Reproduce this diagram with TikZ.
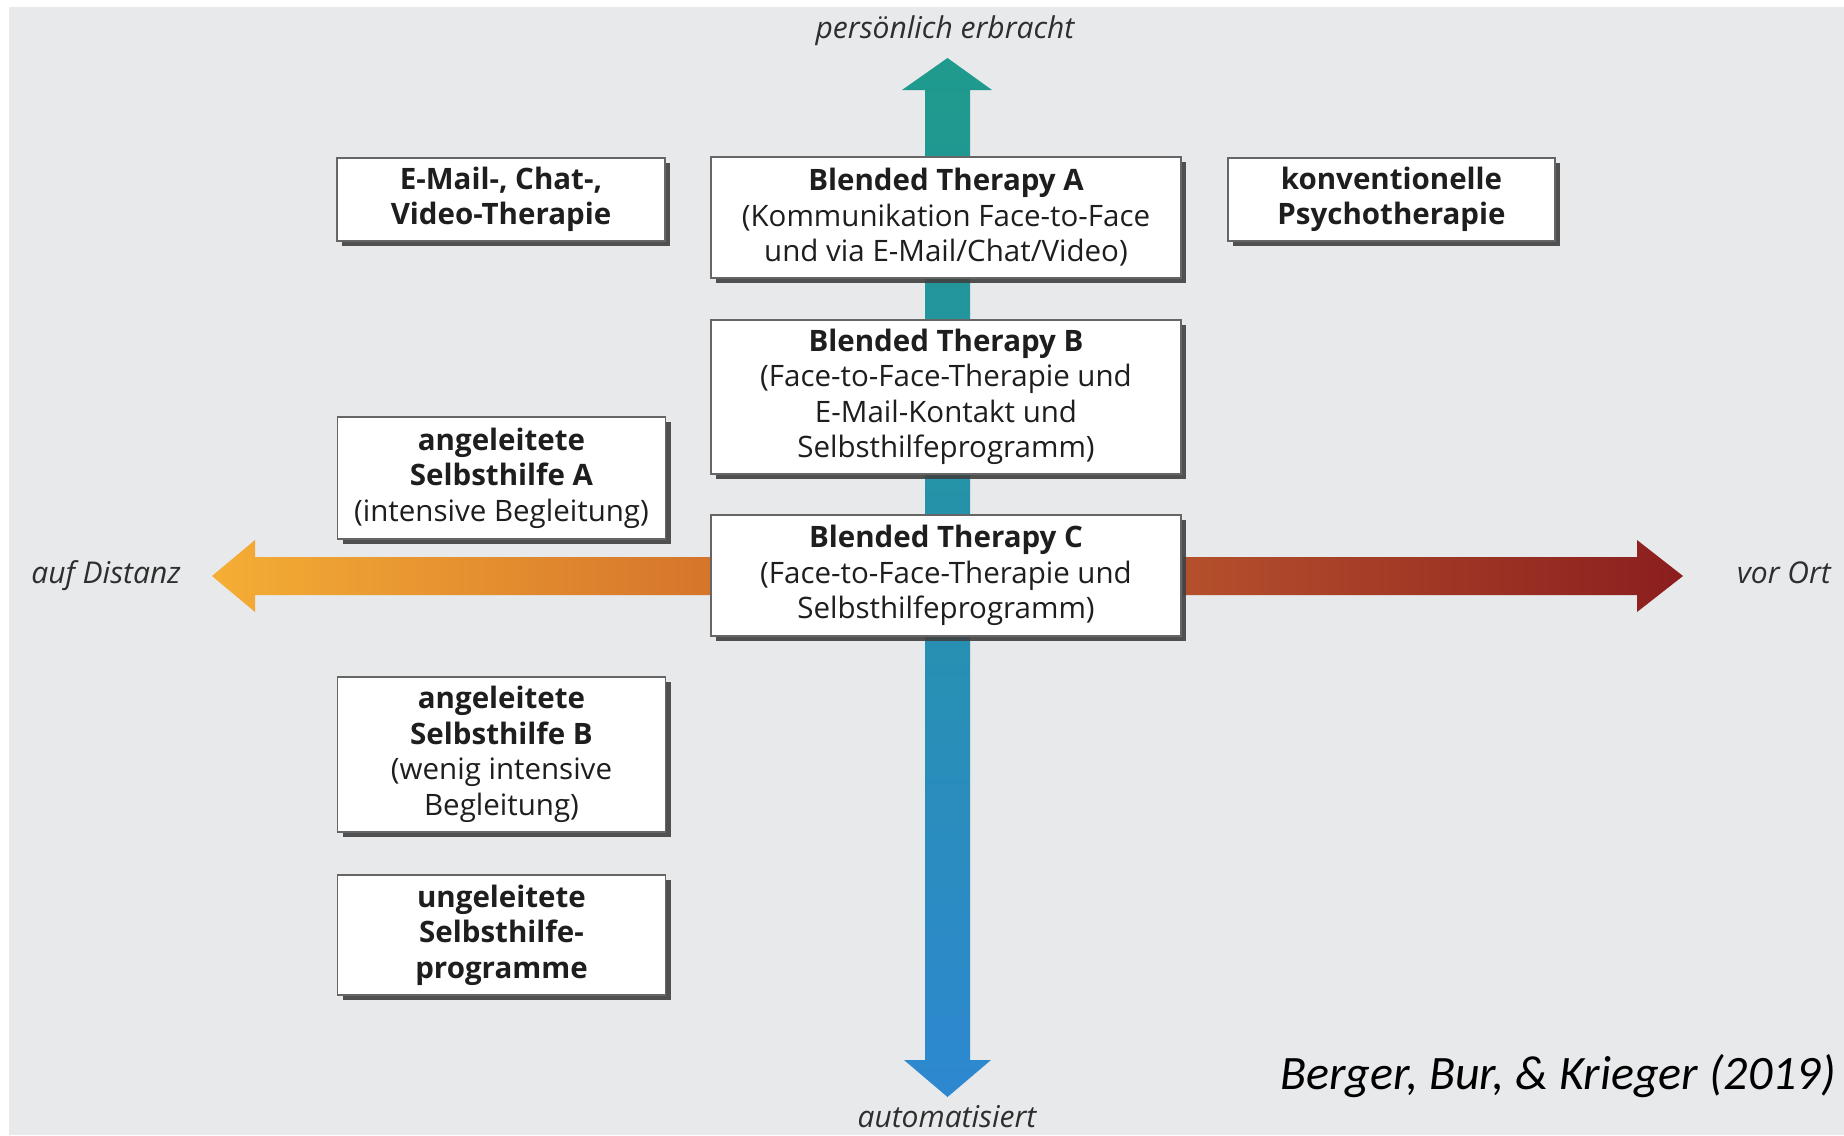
\documentclass[tikz,border=0pt]{standalone}
\usepackage{fontspec}
\setmainfont{Open Sans}
\newfontfamily\capfont{Carlito}
\usetikzlibrary{shadows}
\definecolor{bg}{HTML}{E8E9EB}
\definecolor{teal1}{HTML}{1F9A8C}
\definecolor{blue1}{HTML}{2E88D0}
\definecolor{or1}{HTML}{F5AE35}
\definecolor{or2}{HTML}{D5742B}
\definecolor{rd1}{HTML}{B5502C}
\definecolor{rd2}{HTML}{8B1E1E}
\definecolor{boxtext}{HTML}{1E1E1E}
\begin{document}
\begin{tikzpicture}[x=1pt,y=-1pt,
  box/.style={draw=black!60, line width=1.8pt, fill=white, align=center, inner sep=0pt,
    text=boxtext, font=\fontsize{29.5}{35.5}\selectfont,
    drop shadow={shadow xshift=5pt, shadow yshift=-5pt, fill=black!75, opacity=0.9}},
  axlabel/.style={font=\fontsize{30}{34}\selectfont\itshape, text=black!82, anchor=base}]
\useasboundingbox (0,0) rectangle (1844,1135);
\fill[bg] (9,7) rectangle (1844,1135);

% vertical axis arrow
\shade[top color=teal1, bottom color=blue1]
  (925,90) -- (902,90) -- (947.5,58) -- (992,90) -- (970,90) -- (970,1060)
  -- (991,1060) -- (947.5,1097) -- (904,1060) -- (925,1060) -- cycle;
% horizontal axis arrows
\shade[left color=or1, right color=or2]
  (714,557) -- (255,557) -- (255,540) -- (212,576) -- (255,612) -- (255,595) -- (714,595) -- cycle;
\shade[left color=rd1, right color=rd2]
  (1183,557) -- (1637,557) -- (1637,540) -- (1683,576) -- (1637,612) -- (1637,595) -- (1183,595) -- cycle;

% axis labels
\node[axlabel] (top) at (945,38) {persönlich erbracht};
\node[axlabel] (bottom) at (947,1127) {automatisiert};
\node[axlabel] (left) at (106,583) {auf Distanz};
\node[axlabel] (right) at (1784,583) {vor Ort};

% boxes
\node[box, minimum width=328pt, minimum height=83pt] (email) at (501,199.5)
  {\textbf{E-Mail-, Chat-,}\\\textbf{Video-Therapie}};
\node[box, minimum width=470pt, minimum height=121pt] (bta) at (946,217.5)
  {\textbf{Blended Therapy A}\\(Kommunikation Face-to-Face\\und via E-Mail/Chat/Video)};
\node[box, minimum width=327pt, minimum height=83pt] (konv) at (1391.5,199.5)
  {\textbf{konventionelle}\\\textbf{Psychotherapie}};
\node[box, minimum width=470pt, minimum height=154pt] (btb) at (946,397)
  {\textbf{Blended Therapy B}\\(Face-to-Face-Therapie und\\E-Mail-Kontakt und\\Selbsthilfeprogramm)};
\node[box, minimum width=328pt, minimum height=122pt] (anga) at (501.5,478)
  {\textbf{angeleitete}\\\textbf{Selbsthilfe A}\\(intensive Begleitung)};
\node[box, minimum width=470pt, minimum height=121pt] (btc) at (946,575.5)
  {\textbf{Blended Therapy C}\\(Face-to-Face-Therapie und\\Selbsthilfeprogramm)};
\node[box, minimum width=328pt, minimum height=155pt] (angb) at (501.5,754.5)
  {\textbf{angeleitete}\\\textbf{Selbsthilfe B}\\(wenig intensive\\Begleitung)};
\node[box, minimum width=328pt, minimum height=120pt] (ungel) at (501.5,935)
  {\textbf{ungeleitete}\\\textbf{Selbsthilfe-}\\\textbf{programme}};

% citation
\node[font=\fontsize{48}{56}\selectfont\capfont\itshape, text=black, anchor=base east] (cite) at (1839,1089)
  {Berger, Bur, \& Krieger (2019)};
\end{tikzpicture}
\end{document}
